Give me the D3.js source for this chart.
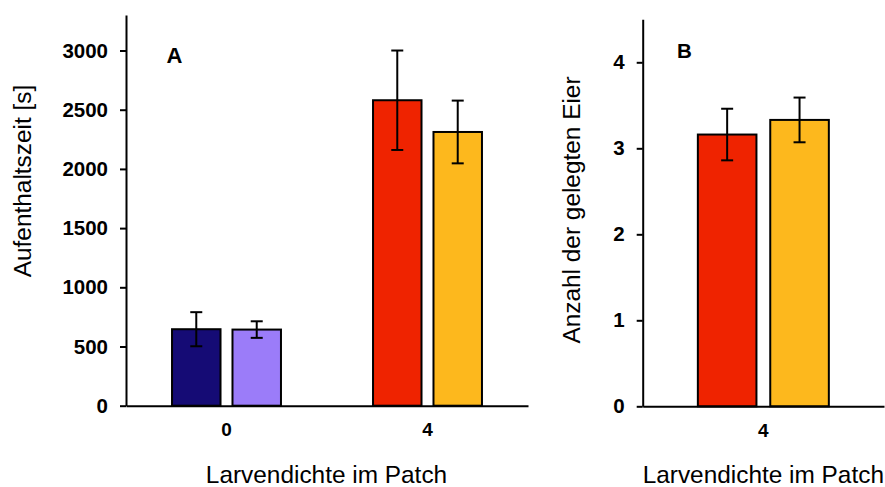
<!DOCTYPE html>
<html>
<head>
<meta charset="utf-8">
<script src="https://cdn.jsdelivr.net/npm/d3@7"></script>
<style>
  html, body { margin: 0; padding: 0; background: #fff; }
  svg { display: block; }
  text { font-family: "Liberation Sans", Arial, Helvetica, sans-serif; fill: #000; }
</style>
</head>
<body>
<svg id="chart" width="885" height="487"></svg>
<script>
// ---------- data ----------
const categoriesA = ["0", "4"];
const meansA = [[646, 643], [2580, 2312]];
const errorsA = [[144, 70], [420, 265]];
const colorsA = [["#150b75", "#9b7cf9"], ["#ef2300", "#fdb81d"]];
const ticksA = [0, 500, 1000, 1500, 2000, 2500, 3000];

const categoriesB = ["4"];
const meansB = [[3.16, 3.33]];
const errorsB = [[0.30, 0.26]];
const colorsB = [["#ef2300", "#fdb81d"]];
const ticksB = [0, 1, 2, 3, 4];

const yTitleA = "Aufenthaltszeit [s]";
const yTitleB = "Anzahl der gelegten Eier";
const xTitle = "Larvendichte im Patch";

const svg = d3.select("#chart");
const FONT = '"Liberation Sans", Arial, Helvetica, sans-serif';

function panel(opts) {
  const g = svg.append("g");
  const x = d3.scaleBand().domain(opts.cats).range(opts.xRange)
    .paddingInner(opts.pIn).paddingOuter(opts.pOut);
  const xi = d3.scaleBand().domain([0, 1]).range([0, x.bandwidth()])
    .paddingInner(opts.pBar).paddingOuter(0);
  const y = d3.scaleLinear().domain(opts.yDomain).range(opts.yRange);

  // bars
  opts.cats.forEach((c, ci) => {
    const grp = g.append("g").attr("transform", `translate(${x(c)},0)`);
    opts.means[ci].forEach((v, si) => {
      grp.append("rect")
        .attr("x", xi(si))
        .attr("y", y(v))
        .attr("width", xi.bandwidth())
        .attr("height", y(0) - y(v))
        .attr("fill", opts.colors[ci][si])
        .attr("stroke", "#000")
        .attr("stroke-width", 2);
    });
    opts.means[ci].forEach((v, si) => {
      const cx = xi(si) + xi.bandwidth() / 2;
      const e = opts.errors[ci][si];
      const eb = grp.append("g").attr("stroke", "#000").attr("stroke-width", 2);
      eb.append("line").attr("x1", cx).attr("x2", cx).attr("y1", y(v + e)).attr("y2", y(v - e));
      eb.append("line").attr("x1", cx - 6).attr("x2", cx + 6).attr("y1", y(v + e)).attr("y2", y(v + e));
      eb.append("line").attr("x1", cx - 6).attr("x2", cx + 6).attr("y1", y(v - e)).attr("y2", y(v - e));
    });
  });

  // y axis
  const ya = g.append("g")
    .attr("transform", `translate(${opts.xRange[0]},0)`)
    .call(d3.axisLeft(y).tickValues(opts.ticks).tickFormat(d3.format("d"))
      .tickSize(6).tickSizeOuter(0).tickPadding(12));
  ya.select(".domain").attr("stroke", "#000").attr("stroke-width", 2);
  ya.selectAll(".tick line").attr("stroke", "#000").attr("stroke-width", 2);
  ya.selectAll(".tick text")
    .style("font-size", "20.5px").style("font-weight", "bold").style("font-family", FONT);

  // x axis
  const xa = g.append("g")
    .attr("transform", `translate(0,${opts.yRange[0]})`)
    .call(d3.axisBottom(x).tickSize(0).tickSizeOuter(0).tickPadding(17));
  xa.select(".domain").attr("stroke", "#000").attr("stroke-width", 2);
  xa.selectAll(".tick text")
    .style("font-size", "19px").style("font-weight", "bold").style("font-family", FONT);

  // titles
  g.append("text")
    .attr("transform", `translate(${opts.yTitleX},${opts.yTitleY}) rotate(-90)`)
    .attr("text-anchor", "middle")
    .style("font-size", "24.4px")
    .text(opts.yTitle);
  g.append("text")
    .attr("x", opts.xTitleX)
    .attr("y", 483)
    .attr("text-anchor", "middle")
    .style("font-size", "24.4px")
    .text(xTitle);
  g.append("text")
    .attr("x", opts.labelX)
    .attr("y", opts.labelY)
    .style("font-size", opts.labelSize + "px")
    .style("font-weight", "bold")
    .text(opts.label);
}

panel({
  cats: categoriesA, means: meansA, errors: errorsA, colors: colorsA, ticks: ticksA,
  xRange: [126, 528], pIn: 0.458, pOut: 0.229, pBar: 0.198,
  yDomain: [0, 3300], yRange: [405.7, 15],
  yTitle: yTitleA, yTitleX: 31, yTitleY: 181, xTitleX: 326.5,
  label: "A", labelX: 166.5, labelY: 62.7, labelSize: 22
});

panel({
  cats: categoriesB, means: meansB, errors: errorsB, colors: colorsB, ticks: ticksB,
  xRange: [642.7, 884], pIn: 0.2963, pOut: 0.2963, pBar: 0.1906,
  yDomain: [0, 4.5], yRange: [406.3, 19.3],
  yTitle: yTitleB, yTitleX: 580, yTitleY: 210, xTitleX: 763.3,
  label: "B", labelX: 677, labelY: 58.3, labelSize: 20.5
});
</script>
</body>
</html>
